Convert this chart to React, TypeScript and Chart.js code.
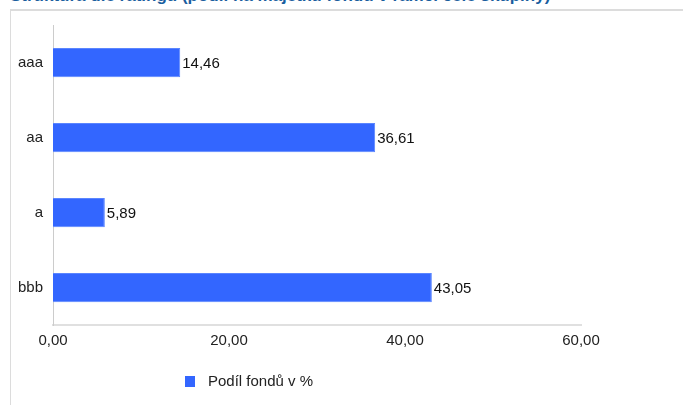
import React, { useEffect, useRef } from "react";
import { Chart, registerables } from "chart.js";

Chart.register(...registerables);

const categories = ["aaa", "aa", "a", "bbb"];
const seriesName = "Podíl fondů v %";
const seriesValues = [14.46, 36.61, 5.89, 43.05];
const xTickValues = [0, 20, 40, 60];
const titleText = "Struktura dle ratingu (podíl na majetku fondů v rámci celé skupiny)";

const fmt = (v: number) => v.toFixed(2).replace(".", ",");
const FONT = "'Liberation Sans', Arial, sans-serif";

const valueLabels = {
  id: "valueLabels",
  afterDatasetsDraw(chart: any) {
    const ctx = chart.ctx;
    const meta = chart.getDatasetMeta(0);
    ctx.save();
    ctx.font = "15px " + FONT;
    ctx.fillStyle = "#111";
    ctx.textBaseline = "middle";
    ctx.textAlign = "left";
    meta.data.forEach((el: any, i: number) => {
      ctx.fillText(fmt(seriesValues[i]), el.x + 2, el.y + 1);
    });
    ctx.restore();
  },
};

export default function App() {
  const ref = useRef<HTMLCanvasElement | null>(null);
  useEffect(() => {
    if (!ref.current) return;
    const chart = new Chart(ref.current, {
      type: "bar",
      data: {
        labels: categories,
        datasets: [
          {
            label: seriesName,
            data: seriesValues,
            backgroundColor: "#3366ff",
            borderColor: "#5a85ff",
            borderWidth: 1,
            barPercentage: 0.39,
            categoryPercentage: 1,
          },
        ],
      },
      options: {
        indexAxis: "y",
        animation: false,
        responsive: false,
        devicePixelRatio: 1,
        layout: { padding: { left: 0, right: 102, top: 25, bottom: 0 } },
        plugins: {
          legend: { display: false },
          tooltip: { enabled: false },
        },
        scales: {
          x: {
            min: 0,
            max: 60,
            afterBuildTicks(scale: any) {
              scale.ticks = xTickValues.map((v) => ({ value: v }));
            },
            afterFit(scale: any) {
              scale.height = 80;
            },
            grid: { display: false, drawTicks: false },
            border: { display: true, color: "#e0e0e0", width: 2 },
            ticks: {
              padding: 7,
              color: "#222",
              font: { size: 15, family: FONT },
              callback: (v: any) => fmt(Number(v)),
              maxRotation: 0,
            },
          },
          y: {
            afterFit(scale: any) {
              scale.width = 53;
            },
            grid: { display: false, drawTicks: false },
            border: { display: true, color: "#cccccc", width: 1 },
            ticks: {
              padding: 10,
              color: "#222",
              font: { size: 15, family: FONT },
            },
          },
        },
      },
      plugins: [valueLabels],
    } as any);
    return () => chart.destroy();
  }, []);

  return (
    <div
      style={{
        position: "absolute",
        left: 0,
        top: 0,
        width: 683,
        height: 405,
        overflow: "hidden",
        background: "#fff",
        fontFamily: FONT,
      }}
    >
      <div
        style={{
          position: "absolute",
          left: 10,
          top: -12,
          fontSize: 17,
          lineHeight: "16px",
          fontWeight: "bold",
          color: "#1a5e9e",
          whiteSpace: "nowrap",
        }}
      >
        {titleText}
      </div>
      <div
        style={{
          position: "absolute",
          left: 10,
          top: 9,
          width: 700,
          height: 420,
          borderTop: "2px solid #dcdcdc",
          borderLeft: "1px solid #dcdcdc",
        }}
      />
      <canvas
        ref={ref}
        width={683}
        height={405}
        style={{ position: "absolute", left: 0, top: 0, width: 683, height: 405 }}
      />
      <div
        style={{
          position: "absolute",
          left: 185,
          top: 372,
          fontSize: 15,
          lineHeight: "18px",
          color: "#222",
          display: "flex",
          alignItems: "center",
          whiteSpace: "nowrap",
        }}
      >
        <span
          style={{
            display: "inline-block",
            width: 10,
            height: 11,
            background: "#3366ff",
            marginRight: 13,
          }}
        />
        {seriesName}
      </div>
    </div>
  );
}
